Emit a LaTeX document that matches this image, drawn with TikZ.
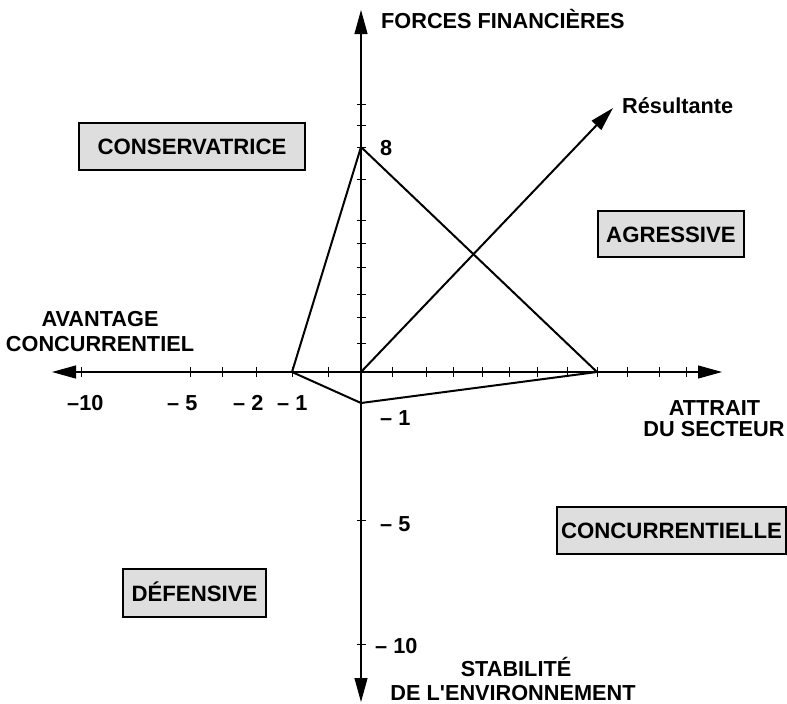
\documentclass[tikz,border=0pt]{standalone}
\usepackage{fontspec}
\setmainfont{Liberation Sans}
\usetikzlibrary{arrows.meta}
\newcommand\lblfont{\fontsize{21.7}{24}\selectfont\bfseries}
\newcommand\boxfont{\fontsize{22.2}{24}\selectfont\bfseries}
\tikzset{
  axisline/.style={line width=1.1pt, {Triangle[length=24pt,width=13pt]}-{Triangle[length=24pt,width=13pt]}},
  tickmark/.style={line width=0.9pt},
  trig/.style={line width=2pt, line join=round},
  resline/.style={line width=2pt, -{Triangle[length=24pt,width=13pt]}},
  lbl/.style={font=\lblfont, inner sep=0pt},
  quad/.style={draw, line width=1.2pt, fill=black!13, font=\boxfont, inner sep=0pt, text height=16pt, text depth=0pt}
}
\begin{document}
\begin{tikzpicture}[x=1pt,y=-1pt]
\useasboundingbox (0,0) rectangle (787,704);
% key points
\coordinate (O) at (361,372);
\coordinate (L) at (52,372);
\coordinate (R) at (722,372);
\coordinate (T) at (361,10);
\coordinate (B) at (361,702);
\coordinate (P1) at (292,372);
\coordinate (P2) at (361,147);
\coordinate (P3) at (597,372);
\coordinate (P4) at (361,403);
\coordinate (Res) at (613,108);
% axes
\draw[axisline] (L) -- (R);
\draw[axisline] (B) -- (T);
% ticks on horizontal axis
\foreach \x in {81,190,222,256,292,328,392,426,453,482,509,537,567,597,627,659,686}
  \draw[tickmark] (\x,367) -- (\x,377);
% ticks on vertical axis
\foreach \y in {104,125,147,179,220,243,267,294,317,343,520,644}
  \draw[tickmark] (357,\y) -- (366,\y);
% quadrilateral
\draw[trig] (P1) -- (P2) -- (P3) -- (P4) -- cycle;
% resultant
\draw[resline] (O) -- (Res);
% axis labels
\node[lbl, anchor=base west] (ff) at (381,28) {FORCES FINANCIÈRES};
\node[lbl, anchor=base west] (res) at (622,113) {Résultante};
\node[lbl, anchor=base west] (v8) at (380,155) {8};
\node[lbl, anchor=base] (av1) at (100,326) {AVANTAGE};
\node[lbl, anchor=base] (av2) at (100,351) {CONCURRENTIEL};
\node[lbl, anchor=base] (at1) at (714.5,415) {ATTRAIT};
\node[lbl, anchor=base] (at2) at (714,436) {DU SECTEUR};
\node[lbl, anchor=base] (st1) at (516,676) {STABILITÉ};
\node[lbl, anchor=base] (st2) at (513,700) {DE L\textquotesingle ENVIRONNEMENT};
% tick labels
\node[lbl, anchor=base west] (hm10) at (67,410) {\textendash10};
\node[lbl, anchor=base west] (hm5) at (167,410) {\textendash{} 5};
\node[lbl, anchor=base west] (hm2) at (233,410) {\textendash{} 2};
\node[lbl, anchor=base west] (hm1) at (277,410) {\textendash{} 1};
\node[lbl, anchor=base west] (vm1) at (380,425) {\textendash{} 1};
\node[lbl, anchor=base west] (vm5) at (380,531) {\textendash{} 5};
\node[lbl, anchor=base west] (vm10) at (375,653) {\textendash{} 10};
% quadrant boxes
\node[quad, minimum width=226pt, minimum height=47pt] (cons) at (192,146.5) {CONSERVATRICE};
\node[quad, minimum width=146pt, minimum height=46pt] (agr) at (671,234) {AGRESSIVE};
\node[quad, minimum width=229pt, minimum height=47pt] (conc) at (671.5,530.5) {CONCURRENTIELLE};
\node[quad, minimum width=143pt, minimum height=48pt] (def) at (194.5,593) {DÉFENSIVE};
\end{tikzpicture}
\end{document}
